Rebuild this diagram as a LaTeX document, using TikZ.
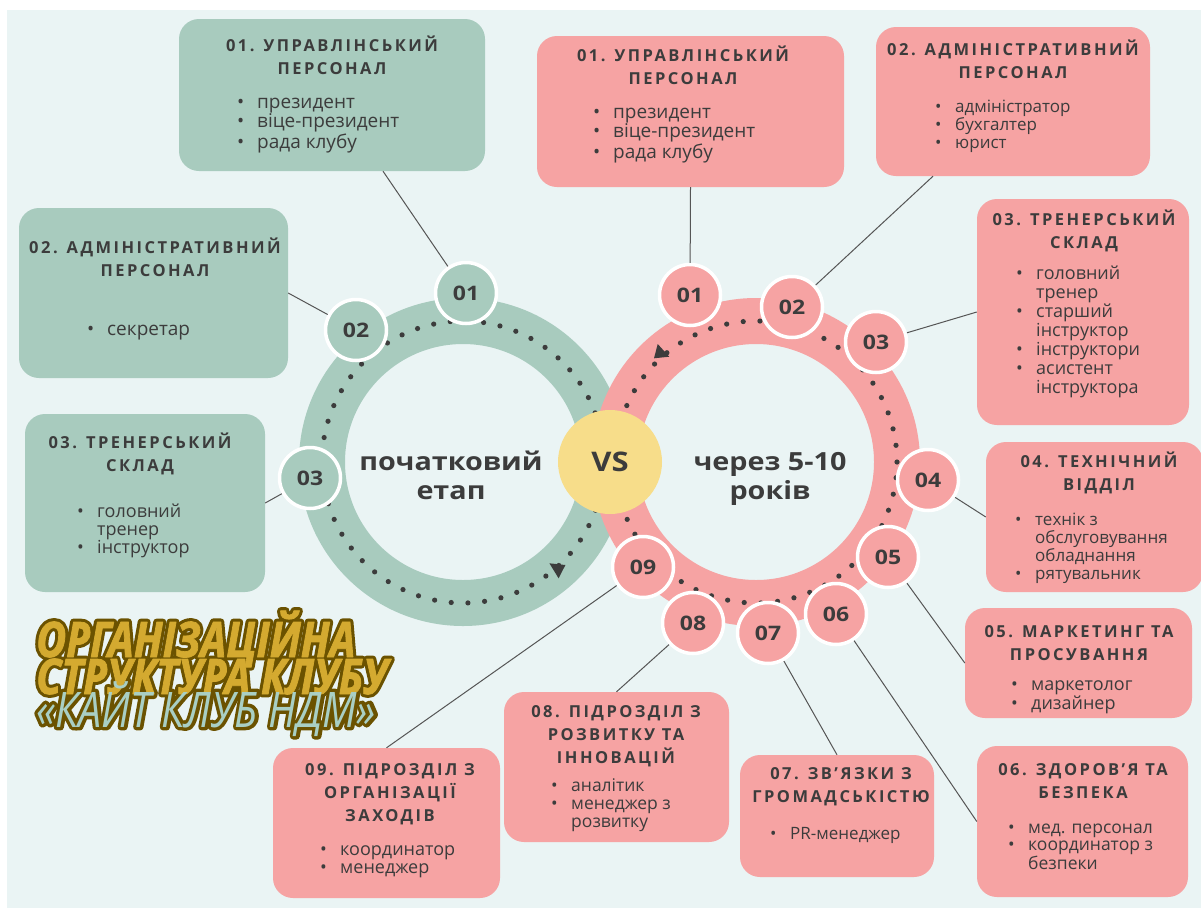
\documentclass[tikz,border=0pt]{standalone}
\usepackage{fontspec}
\setmainfont{Open Sans}
\newfontfamily\hfont{Open Sans}[LetterSpace=15]
\newfontfamily\cfont{Open Sans}[FakeStretch=1.15]
\newfontfamily\tfont{Open Sans}[FakeStretch=0.84, FakeBold=1.5]
\newfontfamily\tofont{Open Sans}[FakeStretch=0.84, FakeBold=14]
\newfontfamily\tcfont{Open Sans}[FakeStretch=0.84]
\newfontfamily\tcofont{Open Sans}[FakeStretch=0.84, FakeBold=14]
\definecolor{cbg}{HTML}{EAF4F4}
\definecolor{cgreen}{HTML}{A8CBBE}
\definecolor{cpink}{HTML}{F6A3A3}
\definecolor{cyel}{HTML}{F7DD8A}
\definecolor{cdark}{HTML}{3C3C3C}
\definecolor{clink}{HTML}{555555}
\definecolor{tgold}{HTML}{D4AA30}
\definecolor{tbrown}{HTML}{6B5200}
\definecolor{tteal}{HTML}{A9CFC4}
\newcommand\bu{\makebox[20pt][l]{•}}
\newcommand\nb{\hspace*{20pt}}
\newcommand\rj{\special{pdf:literal direct 1 j 1 J}}
\begin{document}
\begin{tikzpicture}[x=1pt,y=-1pt,
  gbox/.style={rounded corners=20pt, fill=cgreen, inner sep=0pt},
  pbox/.style={rounded corners=20pt, fill=cpink, inner sep=0pt},
  gnum/.style={circle, fill=cgreen, draw=white, line width=3.5pt, minimum size=61pt, inner sep=0pt, text=cdark, font=\cfont\bfseries\fontsize{20}{20}\selectfont},
  pnum/.style={gnum, fill=cpink},
  head/.style={inner sep=0pt, anchor=base, text=cdark, font=\hfont\bfseries\fontsize{16.5}{23}\selectfont},
  blist/.style={inner sep=0pt, anchor=base west, text=cdark},
  ctext/.style={inner sep=0pt, anchor=base, text=cdark, font=\cfont\bfseries\fontsize{25}{29}\selectfont},
  link/.style={draw=clink, line width=1pt},
  ttl/.style={inner sep=0pt, anchor=base west, font=\tfont\bfseries\itshape\fontsize{49}{49}\selectfont},
  ttlo/.style={inner sep=0pt, anchor=base west, text=tbrown, font=\tofont\bfseries\itshape\fontsize{49}{49}\selectfont},
  ttc/.style={inner sep=0pt, anchor=base west, font=\tcfont\itshape\fontsize{49}{49}\selectfont},
  ttco/.style={inner sep=0pt, anchor=base west, text=tbrown, font=\tcofont\itshape\fontsize{49}{49}\selectfont}
]
\useasboundingbox (0,0) rectangle (1201,908);
\fill[white] (0,0) rectangle (1201,908);
\fill[cbg] (7,10) rectangle (1201,908);

% boxes
\node[gbox, minimum width=306pt, minimum height=152pt] (gb1) at (332,95) {};
\node[gbox, minimum width=269pt, minimum height=170pt] (gb2) at (153.5,293) {};
\node[gbox, minimum width=240pt, minimum height=178pt] (gb3) at (145,503) {};
\node[pbox, minimum width=307pt, minimum height=151pt] (pb1) at (690.5,111.5) {};
\node[pbox, minimum width=274pt, minimum height=149pt] (pb2) at (1013,101.5) {};
\node[pbox, minimum width=212pt, minimum height=226pt] (pb3) at (1083,312) {};
\node[pbox, minimum width=217pt, minimum height=150pt] (pb4) at (1094.5,517) {};
\node[pbox, minimum width=227pt, minimum height=110pt] (pb5) at (1078.5,663) {};
\node[pbox, minimum width=211pt, minimum height=151pt] (pb6) at (1082.5,821.5) {};
\node[pbox, minimum width=194pt, minimum height=122pt] (pb7) at (837,816) {};
\node[pbox, minimum width=225pt, minimum height=150pt] (pb8) at (616.5,767) {};
\node[pbox, minimum width=227pt, minimum height=150pt] (pb9) at (386.5,823) {};

% headings
\node[head] (gh1) at (332,51) {\begin{tabular}[t]{@{}c@{}}01. УПРАВЛІНСЬКИЙ\\ПЕРСОНАЛ\end{tabular}};
\node[head] (gh2) at (155,253) {\begin{tabular}[t]{@{}c@{}}02. АДМІНІСТРАТИВНИЙ\\ПЕРСОНАЛ\end{tabular}};
\node[head] (gh3) at (140,448) {\begin{tabular}[t]{@{}c@{}}03. ТРЕНЕРСЬКИЙ\\СКЛАД\end{tabular}};
\node[head] (ph1) at (683,61) {\begin{tabular}[t]{@{}c@{}}01. УПРАВЛІНСЬКИЙ\\ПЕРСОНАЛ\end{tabular}};
\node[head] (ph2) at (1013,55) {\begin{tabular}[t]{@{}c@{}}02. АДМІНІСТРАТИВНИЙ\\ПЕРСОНАЛ\end{tabular}};
\node[head] (ph3) at (1084,225) {\begin{tabular}[t]{@{}c@{}}03. ТРЕНЕРСЬКИЙ\\СКЛАД\end{tabular}};
\node[head] (ph4) at (1099,467) {\begin{tabular}[t]{@{}c@{}}04. ТЕХНІЧНИЙ\\ВІДДІЛ\end{tabular}};
\node[head] (ph5) at (1079,637) {\begin{tabular}[t]{@{}c@{}}05. МАРКЕТИНГ ТА\\ПРОСУВАННЯ\end{tabular}};
\node[head] (ph6) at (1083,775) {\begin{tabular}[t]{@{}c@{}}06. ЗДОРОВ’Я ТА\\БЕЗПЕКА\end{tabular}};
\node[head] (ph7) at (841,779) {\begin{tabular}[t]{@{}c@{}}07. ЗВ’ЯЗКИ З\\ГРОМАДСЬКІСТЮ\end{tabular}};
\node[head] (ph8) at (616,717) {\begin{tabular}[t]{@{}c@{}}08. ПІДРОЗДІЛ З\\РОЗВИТКУ ТА\\ІННОВАЦІЙ\end{tabular}};
\node[head] (ph9) at (390,775) {\begin{tabular}[t]{@{}c@{}}09. ПІДРОЗДІЛ З\\ОРГАНІЗАЦІЇ\\ЗАХОДІВ\end{tabular}};

% bullet lists
\node[blist, font=\fontsize{19}{19.5}\selectfont] (gl1) at (237,108) {\begin{tabular}[t]{@{}l@{}}\bu президент\\\bu віце-президент\\\bu рада клубу\end{tabular}};
\node[blist, font=\fontsize{19}{19.5}\selectfont] (gl2) at (87,335) {\begin{tabular}[t]{@{}l@{}}\bu секретар\end{tabular}};
\node[blist, font=\fontsize{18}{18}\selectfont] (gl3) at (77,517) {\begin{tabular}[t]{@{}l@{}}\bu головний\\\nb тренер\\\bu інструктор\end{tabular}};
\node[blist, font=\fontsize{19}{19.5}\selectfont] (pl1) at (593,118) {\begin{tabular}[t]{@{}l@{}}\bu президент\\\bu віце-президент\\\bu рада клубу\end{tabular}};
\node[blist, font=\fontsize{17}{18}\selectfont] (pl2) at (935,112) {\begin{tabular}[t]{@{}l@{}}\bu адміністратор\\\bu бухгалтер\\\bu юрист\end{tabular}};
\node[blist, font=\fontsize{18}{19}\selectfont] (pl3) at (1016,279) {\begin{tabular}[t]{@{}l@{}}\bu головний\\\nb тренер\\\bu старший\\\nb інструктор\\\bu інструктори\\\bu асистент\\\nb інструктора\end{tabular}};
\node[blist, font=\fontsize{17}{17.5}\selectfont] (pl4) at (1015,525) {\begin{tabular}[t]{@{}l@{}}\bu технік з\\\nb обслуговування\\\nb обладнання\\\bu рятувальник\end{tabular}};
\node[blist, font=\fontsize{18}{18}\selectfont] (pl5) at (1011,690) {\begin{tabular}[t]{@{}l@{}}\bu маркетолог\\\bu дизайнер\end{tabular}};
\node[blist, font=\fontsize{17.5}{17.5}\selectfont] (pl6) at (1008,833) {\begin{tabular}[t]{@{}l@{}}\bu мед. персонал\\\bu координатор з\\\nb безпеки\end{tabular}};
\node[blist, font=\fontsize{17}{17}\selectfont] (pl7) at (770,839) {\begin{tabular}[t]{@{}l@{}}\bu PR-менеджер\end{tabular}};
\node[blist, font=\fontsize{17.5}{18}\selectfont] (pl8) at (551,791) {\begin{tabular}[t]{@{}l@{}}\bu аналітик\\\bu менеджер з\\\nb розвитку\end{tabular}};
\node[blist, font=\fontsize{18}{18}\selectfont] (pl9) at (320,855) {\begin{tabular}[t]{@{}l@{}}\bu координатор\\\bu менеджер\end{tabular}};

% rings
\coordinate (gcen) at (463,462);
\coordinate (pcen) at (756,462);
\draw[cgreen, line width=46pt] (gcen) circle[radius=141pt];
\foreach \a in {0,6.8,...,359} \fill[cdark] ([shift={(\a:141pt)}]gcen) circle[radius=2.6pt];
\fill[cdark] (549.4,563.3) -- (565.4,565) -- (558.6,578.3) -- cycle;
\draw[cpink, line width=46pt] (pcen) circle[radius=141pt];
\foreach \a in {0,6.8,...,359} \fill[cdark] ([shift={(\a:141pt)}]pcen) circle[radius=2.6pt];
\fill[cdark] (657.7,344) -- (654,358.3) -- (669.3,356.7) -- cycle;

\node[circle, fill=cyel, minimum size=104pt, inner sep=0pt, text=cdark, font=\cfont\bfseries\fontsize{27}{27}\selectfont] (vs) at (610,462) {VS};
\node[ctext] (lt) at (451,470) {\begin{tabular}[t]{@{}c@{}}початковий\\етап\end{tabular}};
\node[ctext] (rt) at (770,470) {\begin{tabular}[t]{@{}c@{}}через 5-10\\років\end{tabular}};

% number circles
\node[gnum] (gc1) at (466,293) {01};
\node[gnum] (gc2) at (356,330) {02};
\node[gnum] (gc3) at (310,478) {03};
\node[pnum] (pc1) at (690,295) {01};
\node[pnum] (pc2) at (792,307) {02};
\node[pnum] (pc3) at (876,342) {03};
\node[pnum] (pc4) at (928,480) {04};
\node[pnum] (pc5) at (888,557) {05};
\node[pnum] (pc6) at (836,614) {06};
\node[pnum] (pc7) at (768,633) {07};
\node[pnum] (pc8) at (693,623) {08};
\node[pnum] (pc9) at (643,567) {09};

% connectors
\draw[link] (gc1) -- ([xshift=51pt]gb1.south);
\draw[link] (gc2) -- (gb2.east);
\draw[link] (gc3) -- (gb3.east);
\draw[link] (pc1) -- (pb1.south);
\draw[link] (pc2) -- ([xshift=-80pt]pb2.south);
\draw[link] (pc3) -- (pb3.west);
\draw[link] (pc4) -- (pb4.west);
\draw[link] (pc5) -- (pb5.west);
\draw[link] (pc6) -- (pb6.west);
\draw[link] (pc7) -- (pb7.north);
\draw[link] (pc8) -- (pb8.north);
\draw[link] (pc9) -- (pb9.north);

% title
\node[ttlo] (ta) at (36,657) {\rj ОРГАНІЗАЦІЙНА};
\node[ttlo] (tb) at (36,694) {\rj СТРУКТУРА КЛУБУ};
\node[ttco] (tc) at (36,727) {\rj «КАЙТ КЛУБ НДМ»};
\node[ttl, text=tgold] (t1) at (36,657) {\rj ОРГАНІЗАЦІЙНА};
\node[ttl, text=tgold] (t2) at (36,694) {\rj СТРУКТУРА КЛУБУ};
\node[ttc, text=tteal] (t3) at (36,727) {«КАЙТ КЛУБ НДМ»};
\end{tikzpicture}
\end{document}
